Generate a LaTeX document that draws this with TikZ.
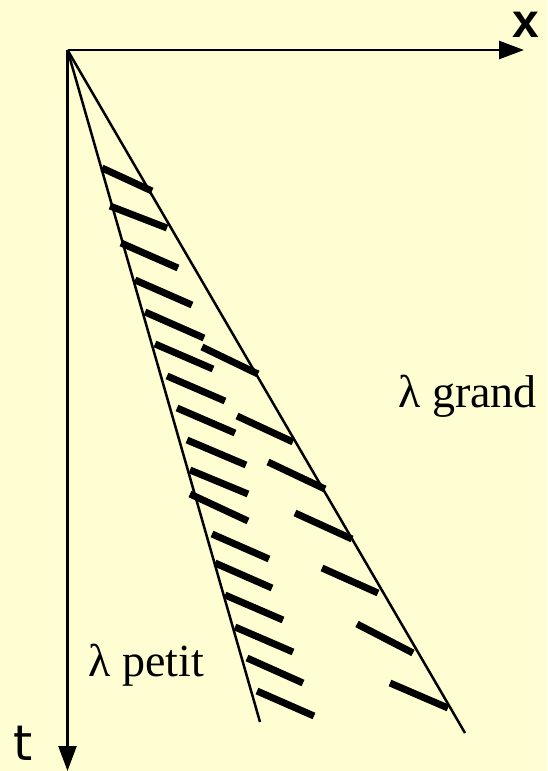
\documentclass[tikz,border=0pt]{standalone}
\usepackage{xcolor}
\usepackage{fontspec}
\setmainfont{Liberation Serif}
\newfontfamily\axisfont{DejaVu Sans}
\newfontfamily\xfont{Liberation Sans}
\usetikzlibrary{arrows.meta, positioning}
\definecolor{paper}{RGB}{255,254,210}

\begin{document}
\begin{tikzpicture}[x=1pt, y=-1pt,
    axis_line/.style={line width=2.5pt, draw=black, -{Triangle[length=25pt, width=18pt]}},
    ray_line/.style={line width=2.5pt, draw=black},
    hatch_line/.style={line width=7pt, draw=black, line cap=butt},
    lambda_label/.style={anchor=base west, inner sep=0pt, font=\fontsize{46}{50}\selectfont},
    axis_label/.style={anchor=base west, inner sep=0pt, font=\axisfont\fontsize{49}{52}\selectfont}
]
    % Background
    \fill[paper] (0,0) rectangle (547,771);
    \useasboundingbox (0,0) rectangle (547,771);

    % Axes
    \coordinate (origin) at (67.5,50);
    \coordinate (x_end) at (524,50);
    \coordinate (t_end) at (67.5,771);
    \draw [axis_line] (origin) -- (x_end);
    \draw [axis_line] (origin) -- (t_end);
    \node (x_label) [axis_label, font=\xfont\bfseries\fontsize{48}{52}\selectfont] at (512,37) {x};
    \node (t_label) [axis_label] at (13,760) {t};

    % Characteristics
    \coordinate (small_end) at (260,722);
    \coordinate (large_end) at (465,733);
    \draw [ray_line] (origin) -- (small_end);
    \draw [ray_line] (origin) -- (large_end);

    % Hatching near lambda petit
    \foreach \xa/\ya/\xb/\yb in {102/168/152/191, 110/206/167/228, 121/243/178/268,
        135/280/192/305, 145/312/204/338, 155/344/213/369, 167/376/225/401,
        177/408/235/433, 187/440/246/465, 190/470/248/494, 190/494/248/521,
        212/534/269/559, 215/563/272/588, 225/595/283/620, 235/627/293/652,
        247/658/303/683, 257/691/314/716}
        \draw [hatch_line] (\xa,\ya) -- (\xb,\yb);

    % Hatching near lambda grand
    \foreach \xa/\ya/\xb/\yb in {202/347/258/374, 237/416/293/442, 268/462/325/489,
        295/513/352/539, 322/568/378/593, 357/624/413/653, 390/683/448/708}
        \draw [hatch_line] (\xa,\ya) -- (\xb,\yb);

    % Labels
    \node (grand_label) [lambda_label] at (398,407) {λ grand};
    \node (petit_label) [lambda_label] at (88,676) {λ petit};
\end{tikzpicture}
\end{document}
